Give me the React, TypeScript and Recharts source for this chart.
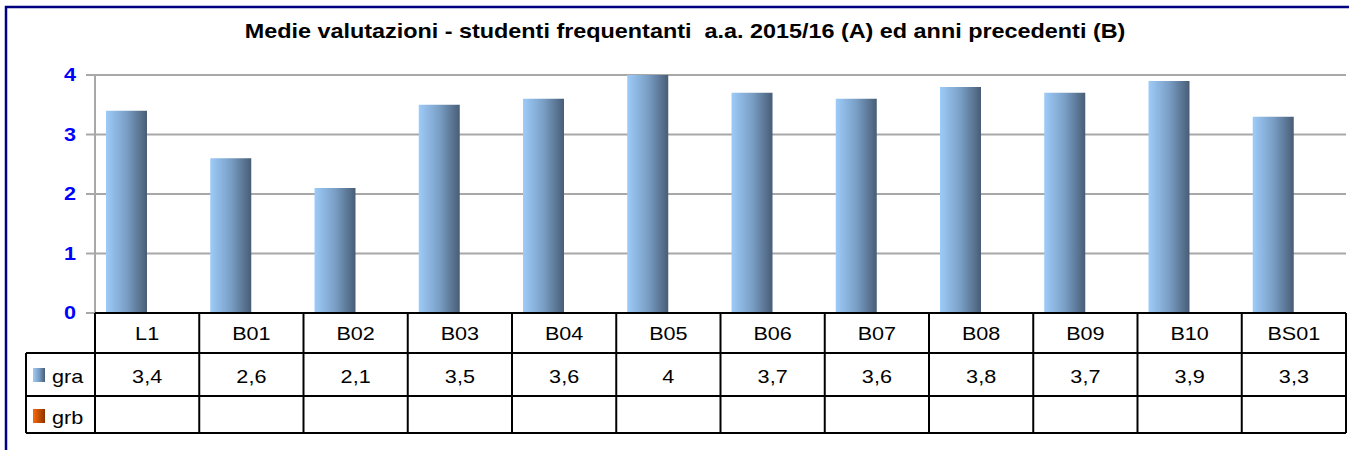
import React from 'react';
import { BarChart, Bar, XAxis, YAxis, CartesianGrid } from 'recharts';

const categories: string[] = ['L1', 'B01', 'B02', 'B03', 'B04', 'B05', 'B06', 'B07', 'B08', 'B09', 'B10', 'BS01'];
const graValues: number[] = [3.4, 2.6, 2.1, 3.5, 3.6, 4, 3.7, 3.6, 3.8, 3.7, 3.9, 3.3];
const grbValues: (number | null)[] = [null, null, null, null, null, null, null, null, null, null, null, null];
const yTicks: number[] = [0, 1, 2, 3, 4];
const seriesNames: string[] = ['gra', 'grb'];
const title = 'Medie valutazioni - studenti frequentanti  a.a. 2015/16 (A) ed anni precedenti (B)';

const W = 1349;
const H = 450;
const PLOT_LEFT = 95;
const PLOT_RIGHT = 1346;
const TABLE_TOP = 313;
const ROW1 = 353;
const ROW2 = 396;
const ROW3 = 433;
const TABLE_LEFT = 26;
const FONT = 'Arial, "Liberation Sans", sans-serif';
const STRETCH = 1.2; // reference text is wider than plain Arial

const data = categories.map((c, i) => ({ name: c, gra: graValues[i], grb: grbValues[i] }));
const band = (PLOT_RIGHT - PLOT_LEFT) / categories.length;

const fmt = (v: number | null) => (v == null ? '' : String(v).replace('.', ','));

// text drawn a little wider, like the original screenshot
function T({ x, y, anchor = 'start', size = 18, bold = false, color = '#000', children }: any) {
    return (
        <text
            transform={`translate(${x},${y}) scale(${STRETCH},1)`}
            textAnchor={anchor}
            fontSize={size}
            fontWeight={bold ? 'bold' : 'normal'}
            fontFamily={FONT}
            fill={color}
            style={{ whiteSpace: 'pre' }}
        >
            {children}
        </text>
    );
}

function YTick(props: any) {
    const { y, payload } = props;
    return <T x={76} y={y + 6} anchor="end" bold color="#0000ff">{payload.value}</T>;
}

function TableTick(props: any) {
    const { x, payload } = props;
    const i = payload.index;
    const left = x - band / 2;
    const right = x + band / 2;
    const line = { stroke: '#000', strokeWidth: 2 };
    return (
        <g>
            {i === 0 && (
                <g>
                    <line x1={PLOT_LEFT} y1={TABLE_TOP} x2={PLOT_RIGHT} y2={TABLE_TOP} {...line} />
                    <line x1={TABLE_LEFT} y1={ROW1} x2={PLOT_RIGHT} y2={ROW1} {...line} />
                    <line x1={TABLE_LEFT} y1={ROW2} x2={PLOT_RIGHT} y2={ROW2} {...line} />
                    <line x1={TABLE_LEFT} y1={ROW3} x2={PLOT_RIGHT} y2={ROW3} {...line} />
                    <line x1={TABLE_LEFT} y1={ROW1} x2={TABLE_LEFT} y2={ROW3} {...line} />
                    <line x1={left} y1={TABLE_TOP} x2={left} y2={ROW3} {...line} />
                    <rect x={33} y={368} width={12} height={14} fill="url(#gradA)" />
                    <T x={52} y={383}>{seriesNames[0]}</T>
                    <rect x={33} y={409} width={12} height={14} fill="url(#gradB)" />
                    <T x={52} y={424}>{seriesNames[1]}</T>
                </g>
            )}
            <line x1={right} y1={TABLE_TOP} x2={right} y2={ROW3} {...line} />
            <T x={x} y={340} anchor="middle">{payload.value}</T>
            <T x={x} y={383} anchor="middle">{fmt(graValues[i])}</T>
            <T x={x} y={424} anchor="middle">{fmt(grbValues[i])}</T>
        </g>
    );
}

export default function App() {
    return (
        <div style={{ position: 'absolute', left: 0, top: 0, width: W, height: H, background: '#fff' }}>
            <BarChart
                width={W}
                height={H}
                data={data}
                margin={{ top: 75, right: W - PLOT_RIGHT, bottom: 0, left: 0 }}
                barCategoryGap={11}
                barGap={0}
            >
                <defs>
                    <linearGradient id="gradA" x1="0" y1="0" x2="1" y2="0">
                        <stop offset="0%" stopColor="#9dcbf8" />
                        <stop offset="50%" stopColor="#7a9fc6" />
                        <stop offset="100%" stopColor="#485d76" />
                    </linearGradient>
                    <linearGradient id="gradB" x1="0" y1="0" x2="1" y2="0">
                        <stop offset="0%" stopColor="#ff6a00" />
                        <stop offset="100%" stopColor="#8a3300" />
                    </linearGradient>
                </defs>
                <rect x={6} y={7} width={W + 10} height={H + 10} fill="none" stroke="#000080" strokeWidth={2.5} />
                <T x={685} y={38} anchor="middle" size={19.5} bold>{title}</T>
                <CartesianGrid vertical={false} stroke="#a8a8a8" strokeWidth={2} />
                <YAxis
                    width={PLOT_LEFT}
                    domain={[0, 4]}
                    ticks={yTicks}
                    interval={0}
                    tick={<YTick />}
                    tickSize={9}
                    axisLine={{ stroke: '#a8a8a8', strokeWidth: 2 }}
                    tickLine={{ stroke: '#a8a8a8', strokeWidth: 2 }}
                />
                <XAxis
                    dataKey="name"
                    height={H - TABLE_TOP}
                    interval={0}
                    axisLine={false}
                    tickLine={false}
                    tick={<TableTick />}
                />
                <Bar dataKey="gra" fill="url(#gradA)" isAnimationActive={false} />
                <Bar dataKey="grb" fill="url(#gradB)" isAnimationActive={false} />
            </BarChart>
        </div>
    );
}
